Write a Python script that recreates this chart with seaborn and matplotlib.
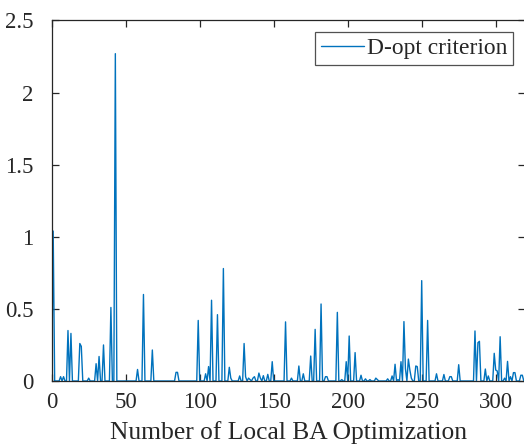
import numpy as np
import pandas as pd
import matplotlib
matplotlib.use("Agg")
import matplotlib.pyplot as plt
from matplotlib.ticker import FuncFormatter
import seaborn as sns

# D-opt criterion after each local BA optimization (zero where nothing is recorded)
n_steps = 320
spike_index = [1, 6, 8, 11, 13, 19, 20, 25, 30, 32, 35, 40, 43,
               58, 62, 68, 84, 85, 99, 104, 106, 108, 112, 116, 120, 121,
               127, 130, 131, 133, 134, 136, 137, 140, 141, 143, 146, 149,
               158, 162, 167, 170, 175, 178, 182, 185, 186, 193, 196, 199,
               201, 205, 209, 212, 215, 219, 220, 227, 230, 232, 234, 236,
               238, 239, 241, 242, 243, 246, 247, 250, 254, 260, 265, 269,
               270, 275, 286, 288, 289, 293, 295, 299, 300, 301, 303, 306,
               308, 310, 312, 313, 317, 318]
spike_value = [1.04, 0.03, 0.03, 0.35, 0.33, 0.26, 0.24, 0.02, 0.12, 0.17, 0.25, 0.51, 2.27,
               0.08, 0.60, 0.215, 0.06, 0.06, 0.42, 0.05, 0.10, 0.56, 0.46, 0.78, 0.095, 0.02,
               0.035, 0.26, 0.03, 0.02, 0.01, 0.02, 0.03, 0.055, 0.02, 0.037, 0.046, 0.134,
               0.41, 0.02, 0.104, 0.05, 0.173, 0.358, 0.534, 0.03, 0.03, 0.476, 0.01, 0.134,
               0.312, 0.197, 0.04, 0.015, 0.01, 0.02, 0.01, 0.015, 0.035, 0.116, 0.01, 0.134,
               0.412, 0.086, 0.152, 0.076, 0.02, 0.104, 0.10, 0.696, 0.42, 0.05, 0.045, 0.03,
               0.03, 0.113, 0.347, 0.266, 0.275, 0.083, 0.035, 0.192, 0.076, 0.07, 0.307, 0.02,
               0.136, 0.03, 0.058, 0.058, 0.04, 0.04]
x_ticks = [0, 50, 100, 150, 200, 250, 300]
y_ticks = [0, 0.5, 1, 1.5, 2, 2.5]

d_opt = np.zeros(n_steps)
d_opt[spike_index] = spike_value
df = pd.DataFrame({"step": np.arange(n_steps), "d_opt": d_opt})

sns.set_theme(style="white")
plt.rcParams["font.family"] = ["Liberation Serif", "DejaVu Serif"]

W, H = 524, 448
fig = plt.figure(figsize=(W / 100, H / 100), dpi=100)
ax_left, ax_bottom = 51.7 / W, 67 / H
ax_w, ax_h = 473.6 / W, 360.5 / H
ax = fig.add_axes([ax_left, ax_bottom, ax_w, ax_h])

sns.lineplot(data=df, x="step", y="d_opt", ax=ax, color="#0072BD",
             linewidth=1.0, label="D-opt criterion")

ax.set_xlim(0, 320)
ax.set_ylim(0, 2.5)
ax.set_xticks(x_ticks)
ax.set_yticks(y_ticks)
ax.yaxis.set_major_formatter(FuncFormatter(lambda v, p: f"{v:g}"))
ax.set_xlabel("Number of Local BA Optimization", fontsize=18.4, color="#262626", labelpad=6)
ax.set_ylabel("")

edge = "#262626"
for s in ax.spines.values():
    s.set_color(edge)
    s.set_linewidth(0.9)
    s.set_visible(True)
ax.tick_params(direction="in", length=5, width=0.9, colors=edge,
               labelsize=16.5, labelcolor="#262626", top=True, right=True,
               bottom=True, left=True)
ax.tick_params(axis="x", pad=8)
ax.tick_params(axis="y", pad=13)

leg = ax.legend(loc="upper right", bbox_to_anchor=(0.974, 0.969), borderaxespad=0,
                fontsize=16.9, frameon=True, fancybox=False, handlelength=1.85,
                handletextpad=0.1, borderpad=0.25)
leg.get_frame().set_edgecolor(edge)
leg.get_frame().set_linewidth(0.9)
for t in leg.get_texts():
    t.set_color("#262626")

fig.savefig("out.png", dpi=100)
